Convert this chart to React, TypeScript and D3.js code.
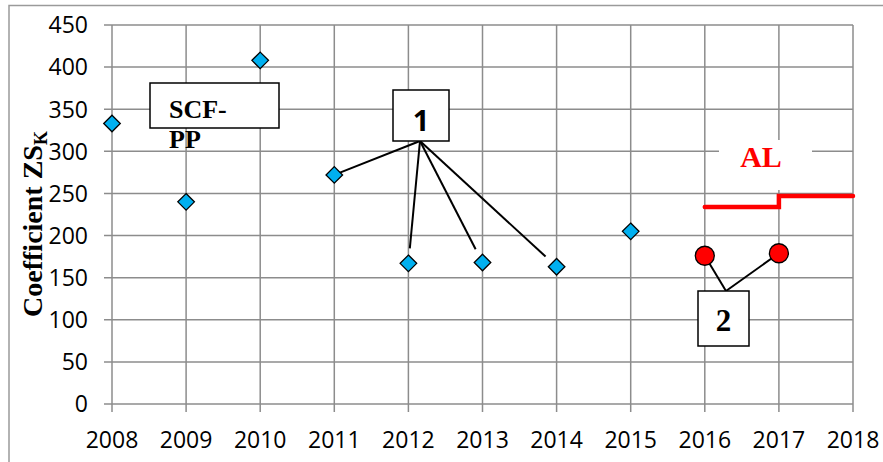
import React from "react";
import * as d3 from "d3";

const years = [2008, 2009, 2010, 2011, 2012, 2013, 2014, 2015];
const zsValues = [333, 240, 408, 272, 167, 168, 163, 205];
const redYears = [2016, 2017];
const redValues = [176, 179];
const alYears = [2016, 2017, 2018];
const alValues = [234, 247, 247];
const xTicks = [2008, 2009, 2010, 2011, 2012, 2013, 2014, 2015, 2016, 2017, 2018];
const yTicks = [0, 50, 100, 150, 200, 250, 300, 350, 400, 450];

const sans = { fontFamily: "'Open Sans', sans-serif", fontSize: "23px" };
const serifB = (size: number) => ({ fontFamily: "'Liberation Serif', 'Times New Roman', serif", fontWeight: "bold" as const, fontSize: `${size}px` });

export default function App() {
  const W = 883, H = 462;
  const x = d3.scaleLinear().domain([2008, 2018]).range([112, 853]);
  const y = d3.scaleLinear().domain([0, 450]).range([404, 25]);
  const grid = "#8c8c8c";
  const diamond = d3.symbol().type(d3.symbolDiamond2).size(175)();

  const alPath = `M${x(alYears[0])},${y(alValues[0])}L${x(alYears[1])},${y(alValues[0])}L${x(alYears[1])},${y(alValues[1])}L${x(alYears[2])},${y(alValues[2])}`;

  const box1 = { x: 393, y: 90, w: 56, h: 51 };
  const anchor1 = { x: 420, y: 141 };
  const box2 = { x: 698, y: 291, w: 51, h: 55 };
  const anchor2 = { x: 726, y: 291 };

  return (
    <svg width={W} height={H} style={{ position: "absolute", left: 0, top: 0 }}>
      <rect width={W} height={H} fill="#fff" />
      <path d={`M9,${H}V5.5H${W}`} fill="none" stroke="#9a9a9a" strokeWidth={1.5} />
      {yTicks.map((t) => (
        <g key={"y" + t}>
          <line x1={104} x2={853} y1={y(t)} y2={y(t)} stroke={grid} strokeWidth={1.5} />
          <text x={88} y={y(t)} dy="0.36em" textAnchor="end" style={sans} fill="#000">{t}</text>
        </g>
      ))}
      {xTicks.map((t) => (
        <g key={"x" + t}>
          <line x1={x(t)} x2={x(t)} y1={25} y2={412} stroke={grid} strokeWidth={1.5} />
          <text x={x(t)} y={448} textAnchor="middle" style={sans} fill="#000">{t}</text>
        </g>
      ))}
      <text transform="translate(42,224) rotate(-90)" textAnchor="middle" style={serifB(28)} fill="#000">
        Coefficient ZS<tspan style={{ fontSize: "18px" }} dy={5}>K</tspan>
      </text>

      {/* SCF-PP box */}
      <rect x={150} y={83} width={129} height={45} fill="#fff" stroke="#000" strokeWidth={1.5} />
      <text x={169} y={118} style={serifB(26)} fill="#000">SCF-</text>
      <text x={169} y={148} style={serifB(26)} fill="#000">PP</text>

      {/* AL label */}
      <rect x={719} y={140} width={93} height={50} fill="#fff" />
      <text x={761} y={167} textAnchor="middle" style={serifB(30)} fill="#ff0000">AL</text>
      <path d={alPath} fill="none" stroke="#ff0000" strokeWidth={4.5} strokeLinecap="round" />

      {/* leader lines 1 */}
      {years.slice(3, 7).map((yr, i) => {
        const v = zsValues[3 + i];
        const px = x(yr), py = y(v);
        const dx = px - anchor1.x, dy = py - anchor1.y;
        const len = Math.hypot(dx, dy);
        const trim = i === 0 ? 4 : 15;
        return (
          <line key={"l1" + yr} x1={anchor1.x} y1={anchor1.y} x2={px - (dx / len) * trim} y2={py - (dy / len) * trim} stroke="#000" strokeWidth={2} />
        );
      })}
      <rect x={box1.x} y={box1.y} width={box1.w} height={box1.h} fill="#fff" stroke="#000" strokeWidth={1.5} />
      <text x={box1.x + box1.w / 2} y={131} textAnchor="middle" style={{ fontFamily: "'Open Sans', sans-serif", fontWeight: "bold", fontSize: "29px" }} fill="#000">1</text>

      {/* leader lines 2 */}
      {redYears.map((yr, i) => (
        <line key={"l2" + yr} x1={anchor2.x} y1={anchor2.y} x2={x(yr)} y2={y(redValues[i])} stroke="#000" strokeWidth={2} />
      ))}
      <rect x={box2.x} y={box2.y} width={box2.w} height={box2.h} fill="#fff" stroke="#000" strokeWidth={1.5} />
      <text x={box2.x + box2.w / 2} y={331} textAnchor="middle" style={serifB(31)} fill="#000">2</text>

      {/* points */}
      {years.map((yr, i) => (
        <path key={"d" + yr} d={diamond || ""} transform={`translate(${x(yr)},${y(zsValues[i])})`} fill="#00b0f0" stroke="#000" strokeWidth={1.3} />
      ))}
      {redYears.map((yr, i) => (
        <circle key={"c" + yr} cx={x(yr)} cy={y(redValues[i])} r={9.5} fill="#ff0000" stroke="#000" strokeWidth={1.3} />
      ))}
    </svg>
  );
}
